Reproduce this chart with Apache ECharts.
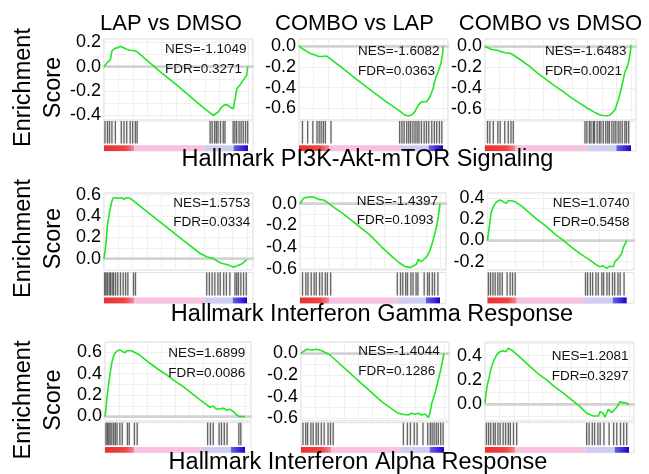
<!DOCTYPE html>
<html><head><meta charset="utf-8">
<script src="https://cdn.jsdelivr.net/npm/echarts@6/dist/echarts.min.js"></script>
<style>html,body{margin:0;padding:0;background:#fff}#c{width:649px;height:474px}</style>
</head><body><div id="c"></div>
<script>
// ---------- DATA ----------
const columns = ['LAP vs DMSO', 'COMBO vs LAP', 'COMBO vs DMSO'];
const genesets = ['Hallmark PI3K-Akt-mTOR Signaling', 'Hallmark Interferon Gamma Response', 'Hallmark Interferon Alpha Response'];
const nesValues = [['-1.1049', '-1.6082', '-1.6483'], ['1.5753', '-1.4397', '1.0740'], ['1.6899', '-1.4044', '1.2081']];
const fdrValues = [['0.3271', '0.0363', '0.0021'], ['0.0334', '0.1093', '0.5458'], ['0.0086', '0.1286', '0.3297']];
const yTickLabels = [
  [[0.2, 0, -0.2, -0.4], [0, -0.2, -0.4, -0.6], [0, -0.2, -0.4, -0.6]],
  [[0.6, 0.4, 0.2, 0], [0, -0.2, -0.4, -0.6], [0.4, 0.2, 0, -0.2]],
  [[0.6, 0.4, 0.2, 0], [0, -0.2, -0.4, -0.6], [0.4, 0.2, 0]]
];
// rank position (% of ranked list), enrichment score
const esPI3K_LAPvDMSO = [[0,0],[0.7,0.0],[2,0.03],[3,0.035],[4.5,0.06],[5.5,0.13],[7.6,0.15],[9.5,0.155],[11.1,0.167],[13.5,0.155],[15.8,0.143],[18,0.135],[20.3,0.132],[22.7,0.125],[30,0.05],[40,-0.05],[50,-0.145],[60,-0.245],[70,-0.345],[75.9,-0.40],[77.1,-0.40],[79.4,-0.37],[81.7,-0.33],[83.5,-0.315],[85.2,-0.31],[87.5,-0.33],[89.8,-0.345],[91,-0.27],[92.2,-0.18],[93.5,-0.165],[94.4,-0.15],[96.7,-0.11],[99.1,-0.07],[99.8,0.0]];
const esPI3K_COMBOvLAP = [[0,0],[0.7,-0.005],[3,-0.03],[5.3,-0.05],[8,-0.07],[11.1,-0.085],[13.5,-0.1],[15.7,-0.1],[19.2,-0.095],[30,-0.21],[40,-0.32],[50,-0.425],[60,-0.53],[70,-0.625],[73.6,-0.663],[75.9,-0.672],[78.2,-0.663],[80.5,-0.63],[82.9,-0.566],[85.2,-0.535],[88.7,-0.535],[91,-0.487],[93.3,-0.40],[94.4,-0.326],[96.7,-0.246],[97.4,-0.213],[98.6,-0.165],[99.8,-0.069],[100,0.0]];
const esPI3K_COMBOvDMSO = [[0,0],[0.7,0.004],[2.7,-0.018],[4.5,-0.03],[6.8,-0.034],[9.1,-0.04],[11,-0.05],[13.7,-0.06],[17.1,-0.066],[19.4,-0.082],[25,-0.135],[30.8,-0.194],[36,-0.255],[42.2,-0.32],[48,-0.38],[53.6,-0.434],[59,-0.49],[65.1,-0.545],[70,-0.59],[74.2,-0.625],[78.8,-0.657],[81,-0.662],[83.4,-0.664],[85.5,-0.66],[86.8,-0.65],[89,-0.609],[91.3,-0.513],[93.6,-0.386],[95.9,-0.242],[97,-0.21],[98.2,-0.162],[99.3,-0.082],[100,0.014]];
const esIFNG_LAPvDMSO = [[0,0],[0.2,0.0],[1.4,0.14],[2.3,0.30],[3.7,0.425],[5.4,0.533],[6.5,0.571],[8,0.57],[10,0.565],[12.4,0.571],[14,0.556],[15.9,0.571],[18.2,0.565],[20.5,0.543],[30,0.44],[43.8,0.296],[55,0.175],[67.1,0.05],[71.8,0.018],[76.4,0.0],[77.6,-0.013],[80,-0.03],[82.3,-0.044],[86.9,-0.06],[90.4,-0.08],[92.8,-0.07],[94.5,-0.06],[96.3,-0.05],[99.8,-0.013],[100,-0.01]];
const esIFNG_COMBOvLAP = [[0,0],[0.7,0.0],[2.4,0.05],[4.8,0.059],[8.4,0.065],[11,0.055],[13.1,0.04],[16.6,0.034],[19.1,0.018],[25,-0.04],[30,-0.085],[39.3,-0.18],[50,-0.29],[58.4,-0.40],[66,-0.49],[71,-0.545],[75,-0.58],[78.6,-0.588],[80.9,-0.575],[82.1,-0.58],[83.3,-0.557],[84.5,-0.514],[86.4,-0.535],[88.1,-0.52],[90.5,-0.49],[92.9,-0.43],[95.2,-0.33],[97.6,-0.21],[98.8,-0.12],[100,0.0]];
const esIFNG_COMBOvDMSO = [[0,0],[0.1,0.0],[1.3,0.13],[2.5,0.257],[4.2,0.32],[6.6,0.367],[9,0.383],[11.4,0.367],[13.3,0.35],[14.9,0.376],[17.4,0.376],[19.8,0.367],[25,0.32],[30.5,0.257],[36,0.195],[42.5,0.13],[48,0.065],[54.5,0.0],[60,-0.06],[66.5,-0.125],[73.6,-0.186],[78.4,-0.233],[80.8,-0.25],[83.2,-0.24],[85.6,-0.265],[88,-0.243],[90.4,-0.25],[91.6,-0.2],[94,-0.17],[95.2,-0.18],[96.4,-0.122],[97.6,-0.066],[98.8,-0.075],[100,0.0]];
const esIFNA_LAPvDMSO = [[0,0.0],[0.7,0.076],[1.2,0.154],[2.4,0.278],[3.6,0.40],[4.8,0.496],[6,0.557],[7.1,0.589],[8.8,0.613],[10.7,0.62],[12.6,0.604],[14.3,0.595],[15.9,0.613],[17.1,0.629],[19,0.613],[25,0.57],[32.1,0.496],[38,0.44],[44,0.387],[50,0.33],[55.9,0.278],[62,0.215],[67.9,0.154],[72,0.115],[75,0.086],[77.4,0.098],[79,0.075],[80.9,0.067],[84.5,0.076],[86.9,0.06],[89.3,0.067],[91.7,0.045],[94,0.014],[95.7,0.0],[97.1,0.014],[100,0.0]];
const esIFNA_COMBOvLAP = [[0,0],[1.6,0.015],[4,0.037],[7.5,0.03],[11,0.037],[14.5,0.024],[18,0.0],[20.3,-0.016],[26,-0.085],[33.1,-0.17],[39,-0.24],[44.8,-0.308],[50,-0.37],[56.4,-0.447],[62,-0.50],[68,-0.554],[72,-0.565],[75,-0.57],[77.4,-0.554],[79.7,-0.563],[82,-0.554],[84.4,-0.57],[86.7,-0.56],[89,-0.591],[90.2,-0.554],[91.4,-0.462],[92.6,-0.415],[93.7,-0.37],[96,-0.246],[97.7,-0.154],[100,0.0]];
const esIFNA_COMBOvDMSO = [[0,0.006],[0.7,0.089],[1.6,0.157],[3,0.226],[4.2,0.295],[5.8,0.35],[6.9,0.378],[8.1,0.406],[9.2,0.42],[10.4,0.433],[11.6,0.425],[12.7,0.441],[14.6,0.433],[16.2,0.461],[17.4,0.461],[18.5,0.447],[25,0.38],[31.3,0.309],[37,0.25],[42.8,0.199],[48,0.145],[54.4,0.089],[60,0.035],[66,-0.022],[70.6,-0.077],[75.2,-0.099],[78.7,-0.099],[79.9,-0.064],[81.7,-0.072],[83.3,-0.11],[85.6,-0.044],[88,-0.072],[90.3,-0.044],[91.5,-0.027],[92.6,-0.017],[93.8,0.019],[94.9,0.033],[96,0.011],[98.4,0.006],[100,-0.008]];
// hit positions (% of ranked list)
const hitsPI3K_LAPvDMSO = [0.7,2.4,3.8,5.5,7.9,12.0,13.9,15.8,18.2,19.9,21.8,23.0,73.7,75.1,76.8,78.0,79.2,80.9,82.8,84.0,89.7,90.9,92.1,93.8,95.2,96.7,98.3,99.8];
const hitsPI3K_COMBOvLAP = [2.4,6.0,9.6,12.5,14.0,15.4,16.9,18.3,22.2,69.9,71.5,73.0,74.8,76.2,77.5,79.1,80.6,82.0,83.3,85.0,86.9,88.5,90.1,92.2,94.0,95.6,97.5,99.2];
const hitsPI3K_COMBOvDMSO = [1.7,3.3,5.7,8.8,10.4,13.5,15.9,17.8,19.4,68.5,69.8,71.5,72.6,74.2,75.0,76.8,78.3,79.4,81.0,82.7,84.1,85.2,86.9,88.3,89.6,91.2,92.5,94.0,95.8,96.9,98.4];
const hitsIFNG_LAPvDMSO = [0.5,1.4,2.4,3.6,4.5,5.7,6.7,8.1,9.6,11.5,13.4,15.1,16.7,20.6,22.0,71.8,73.7,75.6,77.5,79.7,81.3,83.7,85.6,88.0,91.6,92.8,94.0,95.7,97.6,99.5];
const hitsIFNG_COMBOvLAP = [1.8,4.2,5.7,8.0,10.1,11.6,14.0,15.8,18.1,19.6,21.9,69.5,71.8,73.4,75.5,76.8,79.2,80.7,82.9,84.2,88.7,91.1,92.4,94.5,96.1,98.5];
const hitsIFNG_COMBOvDMSO = [0.7,2.2,3.9,5.5,7.4,8.9,10.6,14.1,16.3,18.0,19.9,70.4,71.9,73.9,75.5,77.9,79.6,82.1,83.4,85.8,87.5,89.8,91.4,93.7,95.3,98.1];
const hitsIFNA_LAPvDMSO = [0.7,1.7,2.7,3.7,4.9,6.2,7.4,8.6,10.6,12.3,16.0,17.3,21.0,23.0,73.3,75.3,77.3,81.5,83.2,85.2,87.2,95.6,97.0];
const hitsIFNA_COMBOvLAP = [1.4,3.3,4.6,6.9,8.5,10.6,12.1,14.2,16.2,18.9,20.6,22.5,71.6,74.4,76.5,79.2,81.2,85.3,88.6,90.4,91.7,93.1,94.6,96.0,97.7,99.4];
const hitsIFNA_COMBOvDMSO = [1.0,2.5,4.0,5.9,7.1,9.0,10.5,12.6,14.3,16.2,17.6,19.8,22.0,70.6,72.3,74.5,76.1,78.4,80.0,82.6,86.2,89.3,91.5,94.1,96.3,98.4];
// ranked-list colour bar breakpoints (% of list): red | pink | lavender | blue
const colorBarBreaks = [0, 21, 70, 90, 100];

const esCurves = [[esPI3K_LAPvDMSO, esPI3K_COMBOvLAP, esPI3K_COMBOvDMSO],[esIFNG_LAPvDMSO, esIFNG_COMBOvLAP, esIFNG_COMBOvDMSO],[esIFNA_LAPvDMSO, esIFNA_COMBOvLAP, esIFNA_COMBOvDMSO]];
const hitSets = [[hitsPI3K_LAPvDMSO, hitsPI3K_COMBOvLAP, hitsPI3K_COMBOvDMSO],[hitsIFNG_LAPvDMSO, hitsIFNG_COMBOvLAP, hitsIFNG_COMBOvDMSO],[hitsIFNA_LAPvDMSO, hitsIFNA_COMBOvLAP, hitsIFNA_COMBOvDMSO]];

// ---------- LAYOUT ----------
const rowGeom = [
  {esTop: 39, esBot: 120, loTop: 121, loBot: 151, title: 160, ylab: 87.5},
  {esTop: 193, esBot: 270, loTop: 272.5, loBot: 303.3, title: 315, ylab: 238.5},
  {esTop: 342, esBot: 421, loTop: 422.7, loBot: 452.7, title: 463, ylab: 400}
];
const sectionTitleX = [367.5, 372, 358];
// [data-left px, data-right px, frame-right px]
const panelX = [
  [[104, 248, 253], [299, 443, 448], [485, 631, 636]],
  [[104, 247, 253], [300, 440, 446], [487.5, 626.7, 634]],
  [[105, 245, 251], [301, 444, 449], [485, 629, 634]]
];
const yRange = [
  [[-0.437, 0.227], [-0.711, 0.069], [-0.705, 0.071]],
  [[-0.107, 0.615], [-0.612, 0.099], [-0.280, 0.449]],
  [[-0.042, 0.694], [-0.625, 0.104], [-0.141, 0.513]]
];
const statPos = [
  [[165, 49.5, 69.5], [358, 51.7, 71], [545, 51.7, 71]],
  [[173.3, 203.3, 222.7], [356.7, 201.7, 220.7], [552.7, 203.3, 222.3]],
  [[168.3, 353.3, 373.3], [358.3, 351.7, 371.7], [551.7, 356.7, 376.7]]
];
const colTitle = [[171, 24], [354.5, 24], [550.5, 24]];

const FONT = '"Liberation Sans", Arial, sans-serif';
const grid = [], xAxis = [], yAxis = [], series = [], graphic = [];

const barFills = [
  new echarts.graphic.LinearGradient(0, 0, 1, 0, [{offset: 0, color: '#ee2e2e'}, {offset: 0.7, color: '#f04444'}, {offset: 1, color: '#f38a9e'}]),
  '#f9c1e0',
  '#cdcdf4',
  new echarts.graphic.LinearGradient(0, 0, 1, 0, [{offset: 0, color: '#6a60e6'}, {offset: 0.6, color: '#3a28d8'}, {offset: 1, color: '#1f00c4'}])
];
const barSegs = [];
for (let i = 0; i < colorBarBreaks.length - 1; i++) barSegs.push([colorBarBreaks[i], colorBarBreaks[i + 1], i]);

let gi = 0;
for (let r = 0; r < 3; r++) {
  const g = rowGeom[r];
  for (let c = 0; c < 3; c++) {
    const [L, R, F] = panelX[r][c];
    const xmax = 100 * (F - L) / (R - L);
    // ES grid
    grid.push({left: L, top: g.esTop, width: F - L, height: g.esBot - g.esTop, show: true, borderColor: '#d6d6d6', borderWidth: 1, backgroundColor: '#fff'});
    xAxis.push({gridIndex: gi, type: 'value', min: 0, max: xmax, position: 'top',
      axisLine: {show: true, lineStyle: {color: '#dcdcdc', width: 3}}, axisTick: {show: false}, axisLabel: {show: false},
      splitNumber: 7, splitLine: {show: true, lineStyle: {color: '#f0f0f0', width: 1}}});
    yAxis.push({gridIndex: gi, type: 'value', min: yRange[r][c][0], max: yRange[r][c][1],
      axisLine: {show: false}, axisTick: {show: false},
      splitLine: {show: true, lineStyle: {color: '#efefef', width: 1}},
      axisLabel: {customValues: yTickLabels[r][c], formatter: v => v.toFixed(1), fontSize: 18, fontFamily: FONT, color: '#000', margin: 3}});
    series.push({type: 'line', xAxisIndex: gi, yAxisIndex: gi, data: esCurves[r][c], showSymbol: false, symbol: 'none', silent: true,
      lineStyle: {color: '#22e622', width: 1.6}, z: 5,
      markLine: {silent: true, symbol: 'none', label: {show: false}, lineStyle: {color: '#cfcfcf', width: 1.5, type: 'solid'}, data: [{yAxis: 0}], z: 2}});
    gi++;
    // hits + colour bar grid
    grid.push({left: L, top: g.loTop, width: F - L, height: g.loBot - g.loTop, show: true, borderColor: '#e2e2e2', borderWidth: 1, backgroundColor: '#fff'});
    xAxis.push({gridIndex: gi, type: 'value', min: 0, max: xmax, show: false});
    yAxis.push({gridIndex: gi, type: 'value', min: 0, max: 1, show: false});
    series.push({type: 'custom', xAxisIndex: gi, yAxisIndex: gi, silent: true, z: 4,
      data: hitSets[r][c].map(v => [v]),
      renderItem: (params, api) => {
        const x = api.value(0);
        const p1 = api.coord([x, 0.25]), p2 = api.coord([x, 1]);
        return {type: 'line', shape: {x1: p1[0], y1: p1[1], x2: p2[0], y2: p2[1]},
          style: {stroke: 'rgba(20,20,20,0.62)', lineWidth: 1.3, shadowBlur: 2, shadowColor: 'rgba(0,0,0,0.25)'}};
      }});
    series.push({type: 'custom', xAxisIndex: gi, yAxisIndex: gi, silent: true, z: 3,
      data: barSegs,
      renderItem: (params, api) => {
        const a = api.coord([api.value(0), 0.19]), b = api.coord([api.value(1), 0]);
        return {type: 'rect', shape: {x: a[0], y: a[1], width: b[0] - a[0], height: b[1] - a[1]},
          style: {fill: barFills[api.value(2)]}};
      }});
    gi++;
    // stats text
    const sp = statPos[r][c];
    graphic.push({type: 'text', x: sp[0], y: sp[1], z: 10, style: {text: 'NES=' + nesValues[r][c], font: '13.5px ' + FONT, fill: '#111', align: 'left', textAlign: 'left', verticalAlign: 'middle', textVerticalAlign: 'middle'}});
    graphic.push({type: 'text', x: sp[0], y: sp[2], z: 10, style: {text: 'FDR=' + fdrValues[r][c], font: '13.5px ' + FONT, fill: '#111', align: 'left', textAlign: 'left', verticalAlign: 'middle', textVerticalAlign: 'middle'}});
  }
  graphic.push({type: 'text', x: sectionTitleX[r], y: g.title, z: 10, style: {text: genesets[r], font: '23.5px ' + FONT, fill: '#000', align: 'center', textAlign: 'center', verticalAlign: 'middle', textVerticalAlign: 'middle'}});
  graphic.push({type: 'text', x: 23.5, y: g.ylab, rotation: Math.PI / 2, z: 10, style: {text: 'Enrichment', font: '23.5px ' + FONT, fill: '#000', align: 'center', textAlign: 'center', verticalAlign: 'middle', textVerticalAlign: 'middle'}});
  graphic.push({type: 'text', x: 54, y: g.ylab, rotation: Math.PI / 2, z: 10, style: {text: 'Score', font: '23.5px ' + FONT, fill: '#000', align: 'center', textAlign: 'center', verticalAlign: 'middle', textVerticalAlign: 'middle'}});
}
for (let c = 0; c < 3; c++) {
  graphic.push({type: 'text', x: colTitle[c][0], y: colTitle[c][1], z: 10, style: {text: columns[c], font: '22px ' + FONT, fill: '#000', align: 'center', textAlign: 'center', verticalAlign: 'middle', textVerticalAlign: 'middle'}});
}

const chart = echarts.init(document.getElementById('c'), null, {renderer: 'canvas'});
chart.setOption({animation: false, backgroundColor: '#fff', grid, xAxis, yAxis, series, graphic});
</script>
</body></html>
